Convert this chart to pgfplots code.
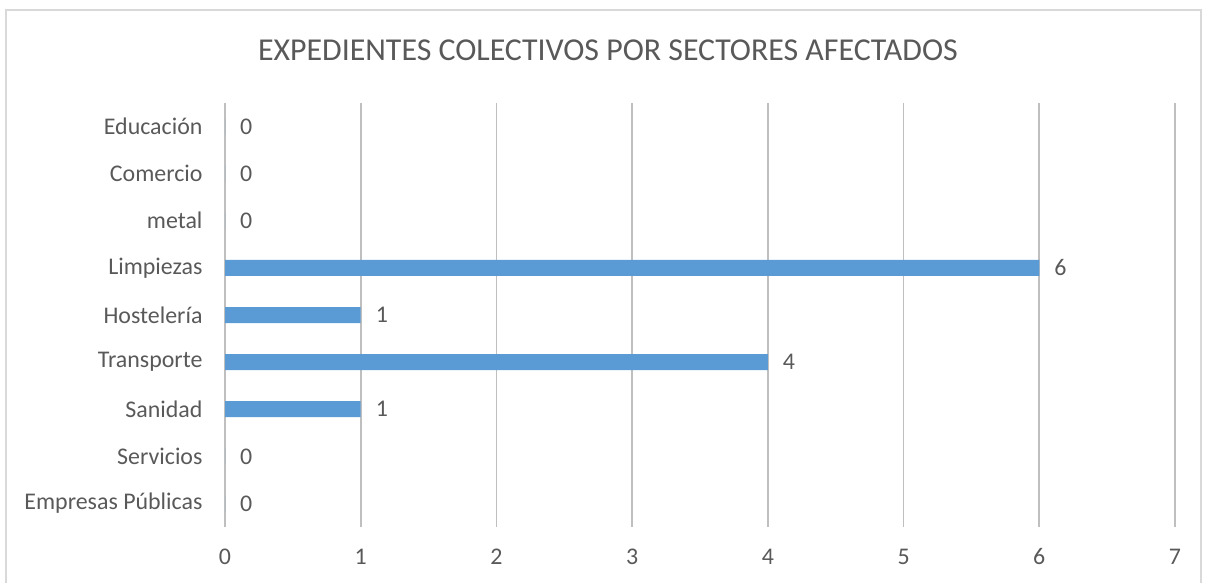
\documentclass[border=0pt]{standalone}
\usepackage{pgfplots}
\pgfplotsset{compat=1.18}
\usepackage{fontspec}
\setmainfont{Carlito}[Numbers=Lining]
\definecolor{barblue}{HTML}{5B9BD5}
\definecolor{txt}{HTML}{595959}
\definecolor{grid}{HTML}{D9D9D9}
\begin{document}
\begin{tikzpicture}
\path[use as bounding box] (0,0) rectangle (603bp,291.5bp);
\draw[grid, line width=0.75bp] (3bp,-2bp) rectangle (600.5bp,286.5bp);
\node[txt, font=\fontsize{16}{19}\selectfont] at (304bp,266.5bp) {EXPEDIENTES COLECTIVOS POR SECTORES AFECTADOS};
\begin{axis}[
  at={(112.5bp,28bp)}, anchor=south west,
  width=475bp, height=212bp, scale only axis,
  xbar, bar width=8bp,
  xmin=0, xmax=7, ymin=-0.5, ymax=8.5,
  xtick={0,1,...,7},
  ytick={0,...,8},
  yticklabels={Empresas Públicas,Servicios,Sanidad,Transporte,Hostelería,Limpiezas,metal,Comercio,Educación},
  axis line style={draw=none},
  tick style={draw=none},
  xmajorgrids, ymajorgrids=false,
  major grid style={grid, line width=0.9bp},
  ticklabel style={txt, font=\fontsize{12}{14}\selectfont},
  /pgf/number format/assume math mode=true,
  yticklabel style={xshift=-3.5bp},
  xticklabel style={anchor=base, yshift=-18.5bp},
  nodes near coords,
  every node near coord/.append style={txt, font=\fontsize{12}{14}\selectfont, anchor=west, xshift=4bp},
  clip=false,
]
\addplot[fill=barblue, draw=none] coordinates {
(0,0) (0,1) (1,2) (4,3) (1,4) (6,5) (0,6) (0,7) (0,8)
};
\end{axis}
\end{tikzpicture}
\end{document}
